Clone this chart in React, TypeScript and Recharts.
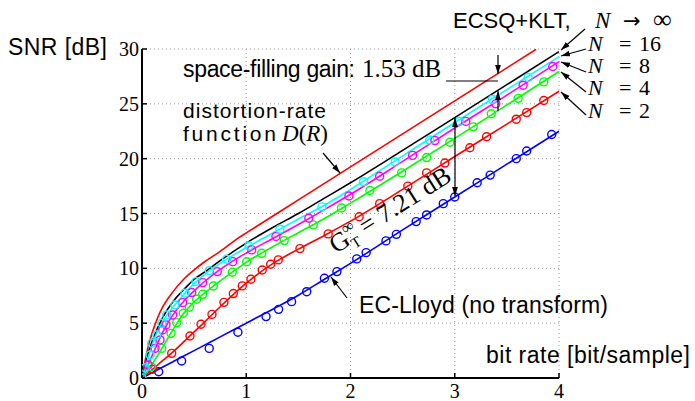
import { CartesianGrid, ComposedChart, Line, Scatter, XAxis, YAxis } from 'recharts';

// rate grid shared by the simulated curves [bit/sample]
const rateGrid = [0, 0.05, 0.1, 0.2, 0.3, 0.4, 0.5, 0.6, 0.75, 1, 1.25, 1.5, 1.75, 2, 2.5, 3, 3.5, 4];

// SNR [dB] on rateGrid
const ecLloydSnr = [0, 0.25, 0.5, 1.0, 1.5, 2.0, 2.5, 3.0, 3.75, 5.0, 6.25, 7.55, 9.0, 10.45, 13.5, 16.5, 19.5, 22.5];
const n2Snr = [0, 0.38, 0.78, 1.6, 2.4, 3.3, 4.2, 5.1, 6.5, 8.65, 10.4, 11.75, 13.0, 14.3, 17.2, 20.2, 23.15, 26.15];
const n4Snr = [0, 0.6, 1.3, 2.85, 4.45, 5.9, 6.95, 7.75, 8.85, 10.55, 11.95, 13.25, 14.55, 15.95, 18.85, 21.85, 24.9, 27.95];
const n8Snr = [0, 1.05, 2.1, 4.2, 5.8, 7.0, 7.95, 8.8, 9.9, 11.4, 12.7, 14.0, 15.35, 16.75, 19.75, 22.8, 25.8, 28.85];
const n16Snr = [0, 1.5, 3.1, 5.15, 6.5, 7.6, 8.6, 9.45, 10.45, 11.9, 13.2, 14.5, 15.75, 17.2, 20.25, 23.3, 26.3, 29.3];
const nInfSnr = [0, 2.0, 3.4, 5.55, 7.0, 8.05, 9.0, 9.65, 10.7, 12.3, 13.7, 15.0, 16.4, 17.8, 20.75, 23.74, 26.75, 29.76];

// distortion-rate function
const drRate = [0, 0.05, 0.1, 0.15, 0.2, 0.3, 0.4, 0.5, 0.6, 0.75, 0.926, 1, 1.5, 2, 2.5, 3, 3.5, 3.78];
const drSnr = [0, 2.5, 4.2, 5.5, 6.5, 7.9, 9.0, 9.85, 10.6, 11.55, 12.78, 13.23, 16.24, 19.25, 22.26, 25.27, 28.28, 29.97];

// measured points (circles)
const ecLloydPtRate = [0, 0.16, 0.38, 0.645, 0.92, 1.19, 1.31, 1.435, 1.58, 1.75, 1.87, 2.06, 2.15, 2.34, 2.44, 2.63, 2.73, 2.89, 3.0, 3.215, 3.34, 3.59, 3.69, 3.93];
const ecLloydPtSnr = [0, 0.57, 1.55, 2.7, 4.17, 5.6, 6.26, 6.96, 7.87, 9.1, 9.7, 10.86, 11.43, 12.5, 13.1, 14.26, 14.87, 15.9, 16.5, 17.8, 18.5, 20.0, 20.7, 22.2];
const n2PtRate = [0.1, 0.285, 0.46, 0.566, 0.671, 0.786, 0.876, 0.962, 1.045, 1.153, 1.234, 1.307, 1.515, 1.786, 2.083, 2.28, 2.55, 2.73, 2.905, 3.145, 3.305, 3.59, 3.69, 3.854];
const n2PtSnr = [0.8, 2.25, 3.83, 4.9, 5.8, 6.9, 7.7, 8.4, 9.0, 9.85, 10.37, 10.77, 11.8, 13.14, 14.7, 15.9, 17.5, 18.7, 19.6, 21.0, 22.0, 23.6, 24.2, 25.3];
const n4PtRate = [0.09, 0.189, 0.278, 0.332, 0.396, 0.454, 0.524, 0.582, 0.684, 0.866, 1.004, 1.148, 1.364, 1.643, 1.914, 2.186, 2.49, 2.73, 2.953, 3.177, 3.35, 3.608, 3.854];
const n4PtSnr = [1.03, 2.7, 4.07, 5.05, 5.9, 6.45, 7.18, 7.63, 8.39, 9.64, 10.6, 11.37, 12.53, 13.96, 15.5, 17.1, 18.7, 20.1, 21.5, 22.9, 24.1, 25.5, 27.0];
const n8PtRate = [0.06, 0.125, 0.173, 0.198, 0.23, 0.294, 0.39, 0.477, 0.582, 0.722, 0.87, 1.052, 1.285, 1.6, 1.985, 2.28, 2.595, 2.81, 3.106, 3.394, 3.656, 3.94];
const n8PtSnr = [1.19, 2.7, 3.47, 4.38, 4.84, 5.75, 6.87, 7.79, 8.7, 9.7, 10.61, 11.68, 12.9, 14.57, 16.6, 18.4, 20.3, 21.65, 23.4, 25.0, 26.7, 28.4];
const n16PtRate = [0, 0.03, 0.077, 0.093, 0.141, 0.189, 0.237, 0.316, 0.412, 0.518, 0.645, 0.812, 1.026, 1.323, 1.726, 2.125, 2.428, 2.76, 3.045, 3.36, 3.704];
const n16PtSnr = [0, 0.94, 2.1, 3.17, 3.92, 4.99, 5.75, 6.66, 7.73, 8.79, 9.79, 10.83, 12.04, 13.57, 15.6, 17.9, 19.7, 21.7, 23.4, 25.4, 27.4];

const blockSizes = ['16', '8', '4', '2'];
const xTicks = [0, 1, 2, 3, 4];
const yTicks = [0, 5, 10, 15, 20, 25, 30];

const RED = '#ff0000';
const GREEN = '#00ff00';
const MAGENTA = '#ff00ff';
const CYAN = '#00ffff';
const BLUE = '#0000ff';

const SANS = '"Liberation Sans", Arial, sans-serif';
const SERIF = '"Liberation Serif", "Times New Roman", serif';

const pts = (xs: number[], ys: number[]) => xs.map((x, i) => ({ x, y: ys[i] }));

const ring = (color: string) => (props: any) =>
  props.cx == null ? <g /> : (
    <circle cx={props.cx} cy={props.cy} r={4} fill="none" stroke={color} strokeWidth={1.4} />
  );

const tickStyle = { fill: '#000', fontSize: 20, fontFamily: SERIF };

function Overlay() {
  const arrow = { stroke: '#000', strokeWidth: 1.2, markerEnd: 'url(#ah)' };
  return (
    <svg
      width={695}
      height={401}
      style={{ position: 'absolute', left: 0, top: 0, pointerEvents: 'none' }}
    >
      <defs>
        <marker id="ah" viewBox="0 0 10 10" refX="10" refY="5" markerWidth="9" markerHeight="9"
          markerUnits="userSpaceOnUse" orient="auto-start-reverse">
          <path d="M0,1.8 L10,5 L0,8.2 z" fill="#000" />
        </marker>
      </defs>

      <text x={8} y={55} fontFamily={SANS} fontSize={23} textLength={99}>SNR [dB]</text>
      <text x={486} y={363} fontFamily={SANS} fontSize={23} textLength={204}>bit rate [bit/sample]</text>

      {/* right-hand labels */}
      <text x={453} y={28} fontFamily={SANS} fontSize={22}>
        ECSQ+KLT,
        <tspan x={595} fontFamily={SERIF} fontSize={23} fontStyle="italic">N</tspan>
        <tspan x={623} fontFamily='"DejaVu Sans", sans-serif' fontSize={21}>→</tspan>
        <tspan x={653} fontFamily={SERIF} fontSize={26}>∞</tspan>
      </text>
      {blockSizes.map((n, i) => (
        <text key={n} x={588} y={51 + i * 22.2} fontFamily={SERIF} fontSize={22}>
          <tspan fontStyle="italic">N</tspan>
          <tspan x={619}>=</tspan>
          <tspan x={639}>{n}</tspan>
        </text>
      ))}
      <line x1={585} y1={29} x2={561} y2={50} {...arrow} />
      <line x1={586} y1={49} x2={561} y2={56} {...arrow} />
      <line x1={586} y1={72} x2={561} y2={62} {...arrow} />
      <line x1={586} y1={92} x2={561} y2={72} {...arrow} />
      <line x1={586} y1={115} x2={561} y2={92} {...arrow} />

      {/* space-filling gain */}
      <text x={183} y={77} fontFamily={SANS} fontSize={23} textLength={172}>space-filling gain:</text>
      <text x={362} y={77} fontFamily={SERIF} fontSize={25}>1.53 dB</text>
      <line x1={446} y1={81} x2={498} y2={81} stroke="#000" strokeWidth={1.2} />
      <line x1={498} y1={55} x2={498} y2={74} {...arrow} />
      <line x1={498} y1={111} x2={498} y2={91} {...arrow} />

      {/* D(R) */}
      <text x={183} y={118} fontFamily={SANS} fontSize={21} textLength={143}>distortion-rate</text>
      <text x={183} y={141} fontFamily={SANS} fontSize={21} textLength={93}>function</text>
      <text x={282} y={141} fontFamily={SERIF} fontSize={23}>
        <tspan fontStyle="italic">D</tspan>(<tspan fontStyle="italic">R</tspan>)
      </text>
      <line x1={323} y1={153} x2={340} y2={173} {...arrow} />

      {/* coding gain */}
      <line x1={455} y1={157} x2={455} y2={118} {...arrow} />
      <line x1={455} y1={157} x2={455} y2={196} {...arrow} />
      <g transform="translate(336,254) rotate(-32.3)">
        <text x={0} y={0} fontFamily={SERIF} fontSize={26}>
          G
          <tspan fontSize={15} dy={6}>T</tspan>
          <tspan fontSize={17} dx={-10} dy={-17}>∞</tspan>
          <tspan fontSize={26} dx={5} dy={11}>= 7.21 dB</tspan>
        </text>
      </g>

      {/* EC-Lloyd */}
      <text x={359} y={313} fontFamily={SANS} fontSize={23} textLength={249}>EC-Lloyd (no transform)</text>
      <line x1={347} y1={298} x2={331} y2={277} {...arrow} />
    </svg>
  );
}

export default function App() {
  return (
    <div style={{ position: 'absolute', left: 0, top: 0, width: 695, height: 401, background: '#fff' }}>
      <ComposedChart width={695} height={401} margin={{ top: 49, right: 136, bottom: 0, left: 102 }}>
        <CartesianGrid stroke="#9a9a9a" strokeDasharray="1 3" />
        <XAxis
          type="number"
          dataKey="x"
          domain={[0, 4]}
          ticks={xTicks}
          height={23}
          tick={tickStyle}
          tickSize={-5}
          tickMargin={11}
          axisLine={{ stroke: '#000', strokeWidth: 2 }}
          tickLine={{ stroke: '#000', strokeWidth: 1.5 }}
          allowDataOverflow
        />
        <YAxis
          type="number"
          dataKey="y"
          domain={[0, 30]}
          ticks={yTicks}
          width={40}
          tick={tickStyle}
          tickSize={-5}
          tickMargin={8}
          axisLine={{ stroke: '#000', strokeWidth: 2 }}
          tickLine={{ stroke: '#000', strokeWidth: 1.5 }}
          allowDataOverflow
        />
        <Line data={pts(rateGrid, ecLloydSnr)} dataKey="y" type="monotone" stroke={BLUE} strokeWidth={1.6} dot={false} isAnimationActive={false} />
        <Scatter data={pts(ecLloydPtRate, ecLloydPtSnr)} shape={ring(BLUE)} isAnimationActive={false} />
        <Line data={pts(rateGrid, n2Snr)} dataKey="y" type="monotone" stroke={RED} strokeWidth={1.6} dot={false} isAnimationActive={false} />
        <Scatter data={pts(n2PtRate, n2PtSnr)} shape={ring(RED)} isAnimationActive={false} />
        <Line data={pts(rateGrid, n4Snr)} dataKey="y" type="monotone" stroke={GREEN} strokeWidth={1.6} dot={false} isAnimationActive={false} />
        <Scatter data={pts(n4PtRate, n4PtSnr)} shape={ring(GREEN)} isAnimationActive={false} />
        <Line data={pts(rateGrid, n8Snr)} dataKey="y" type="monotone" stroke={MAGENTA} strokeWidth={1.6} dot={false} isAnimationActive={false} />
        <Scatter data={pts(n8PtRate, n8PtSnr)} shape={ring(MAGENTA)} isAnimationActive={false} />
        <Line data={pts(rateGrid, nInfSnr)} dataKey="y" type="monotone" stroke="#000" strokeWidth={1.6} dot={false} isAnimationActive={false} />
        <Line data={pts(rateGrid, n16Snr)} dataKey="y" type="monotone" stroke={CYAN} strokeWidth={1.6} dot={false} isAnimationActive={false} />
        <Scatter data={pts(n16PtRate, n16PtSnr)} shape={ring(CYAN)} isAnimationActive={false} />
        <Line data={pts(drRate, drSnr)} dataKey="y" type="monotone" stroke={RED} strokeWidth={1.6} dot={false} isAnimationActive={false} />
      </ComposedChart>
      <Overlay />
    </div>
  );
}
